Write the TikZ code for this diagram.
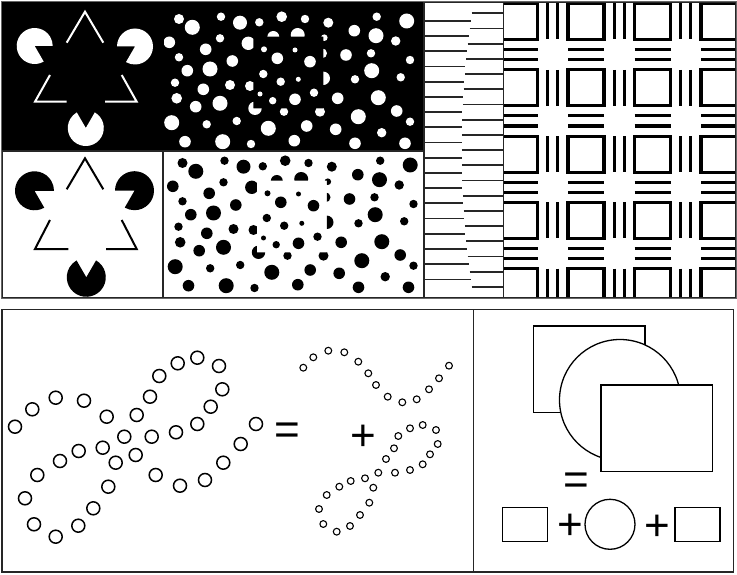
\documentclass[tikz,border=0pt]{standalone}
\usepackage{fontspec}
\newfontfamily\signfont{Liberation Sans}
\usepackage{tikz}
\begin{document}
\begin{tikzpicture}[x=1pt,y=-1pt,
  frame/.style={draw=black!85, line width=1.5pt},
  edge/.style={line width=2pt},
  hline/.style={draw=black!85, line width=1.8pt},
  bar/.style={line width=3.1pt},
  ring/.style={draw, line width=1.5pt},
  smallring/.style={draw, line width=1.1pt},
  outline/.style={draw, fill=white, line width=1.3pt},
  sign/.style={font=\signfont\fontsize{44}{44}\selectfont, inner sep=0pt},
]
\useasboundingbox (0,0) rectangle (737,575);

% dot pattern with the hidden square
\def\dotsout{179/19/5, 192.3/27.3/7.5, 221/16.7/4.2, 240/22.7/7, 259.3/22.3/4.2,
  281.7/16.7/5.3, 305/19/4.2, 328.3/22.7/5, 376.7/16.7/4.2, 406.7/21/7.5,
  169.3/42.3/5.8, 220/38.3/4.2, 248.3/43.3/6.7, 273.3/37/6, 297.7/35/7,
  324.3/37.7/3.3, 354.3/30.7/5.8, 376/35.7/7.5, 395.7/41/4.7,
  179/57.3/4.2, 205.7/49.3/5.8, 232.3/61/5.8, 322/53.3/5, 346/55/5.8,
  371/53.3/4.2, 410/60/4.2, 187.3/70.7/5.8, 210/69/7.5, 175/82.7/4.2,
  230/85/5, 323.3/78.3/6.7, 355/79.3/4.2, 371.7/70.7/7.5, 400.7/77.3/4.2,
  203.3/89.3/5.8, 250/86/5, 176.7/98.3/5.3, 220/103.3/7.5, 195.7/106.7/5.8,
  337.7/98.3/5.8, 378.3/97.7/7.5, 255/108.3/6.7, 284/111.7/4.2, 320/111.7/5,
  171.7/122.7/7.5, 206.7/124.3/4.2, 236.7/121/4.2, 268.3/128.3/7.5,
  306.7/126/5.8, 335.7/129.3/5.8, 358.3/116.7/7.5, 396.7/111/5.8,
  410/121.7/4.2, 185/141.7/5.8, 222.7/141.7/7.5, 251/144/4.2,
  294.3/140.7/5.8, 355/143.3/5.8, 381.7/132.7/4.7, 405/143.3/5.8}
\def\dotsin{264/49.3/3, 295/50/2.5, 277.3/58.3/5.8, 310/61.7/5.8,
  263.3/74/4.2, 280.7/81.7/4.2, 298.3/79.3/2.5, 260/94/2.5,
  272.7/100.7/3.7, 295/99.3/5.8, 314/92.7/4.2}

% top row, black ground
\fill[black] (2,2) rectangle (424,151);

% Kanizsa, white on black
\draw[edge, white] (66.7,42.7) -- (85,11.7) -- (103.3,42.7)
  (50,75) -- (35,101.7) -- (66.5,101.7)
  (105,101.7) -- (136.7,101.7) -- (121.7,75);
\foreach \x/\y/\a in {34.7/46/60, 135/46.5/180, 85.8/128/300}
  \fill[white] (\x,\y) -- ++(\a:18) arc[start angle=\a, delta angle=300, radius=18] -- cycle;

% dots, white on black
\begin{scope}[even odd rule]
  \clip (164,3) rectangle (423,150) (253.3,36.7) rectangle (323.3,108.3);
  \foreach \x/\y/\r in \dotsout \fill[white] (\x,\y) circle[radius=\r];
\end{scope}
\begin{scope}
  \clip (253.3,36.7) rectangle (323.3,108.3);
  \foreach \x/\y/\r in \dotsin \fill[white] (\x,\y) circle[radius=\r];
\end{scope}

% Kanizsa, black on white
\draw[frame] (2.5,151) rectangle (163,297.5);
\draw[edge] (66.7,189.3) -- (85,158.3) -- (103.3,189.3)
  (50,220) -- (35,249) -- (68.3,249)
  (106,249) -- (136.7,249) -- (121.7,220);
\foreach \x/\y/\a in {34.5/190.8/60, 134.5/190.7/180, 86.3/277.3/300}
  \fill (\x,\y) -- ++(\a:19.5) arc[start angle=\a, delta angle=300, radius=19.5] -- cycle;

% dots, black on white
\draw[frame] (163,151) rectangle (424.5,297.5);
\begin{scope}[shift={(3.5,144)}, even odd rule]
  \clip (161,8) rectangle (420,152) (253.3,36.7) rectangle (323.3,108.3);
  \foreach \x/\y/\r in \dotsout \fill (\x,\y) circle[radius=\r];
\end{scope}
\begin{scope}[shift={(3.5,144)}]
  \clip (253.3,36.7) rectangle (323.3,108.3);
  \foreach \x/\y/\r in \dotsin \fill (\x,\y) circle[radius=\r];
\end{scope}

% offset lines
\draw[frame, line width=1.2pt] (424,2) rectangle (503.3,297.5);
\foreach \k in {0,...,18}{
  \pgfmathsetmacro\yy{13.3+15.2*\k}
  \pgfmathsetmacro\xb{461.7+10*((\yy-150)/137)^2}
  \draw[hline] (\xb,\yy) -- (503.3,\yy);
}
\foreach \k in {0,...,17}{
  \pgfmathsetmacro\yy{21+15.2*\k}
  \pgfmathsetmacro\xb{461.7+10*((\yy-150)/137)^2}
  \draw[hline] (424,\yy) -- (\xb,\yy);
}

% squares and bars
\begin{scope}
  \clip (503.3,2) rectangle (735.5,297.5);
  \foreach \i in {0,...,3}
    \foreach \j in {0,...,4}{
      \pgfmathsetmacro\xx{501.5+66.5*\i}
      \pgfmathsetmacro\yy{3.5+66.3*\j}
      \draw[bar] (\xx,\yy) rectangle ++(36,36);
      \ifnum\i<3 \draw[bar] (\xx+46.2,\yy) -- ++(0,36) (\xx+56.3,\yy) -- ++(0,36);\fi
      \ifnum\j<4 \draw[bar] (\xx,\yy+46.1) -- ++(36,0) (\xx,\yy+56.2) -- ++(36,0);\fi
    }
\end{scope}
\draw[frame, line width=1.2pt] (503.3,2) rectangle (735.5,297.5);
\draw[draw=black!60, line width=1pt] (1.5,1.5) rectangle (736,298);

% bottom row
\draw[frame] (2,309.3) rectangle (733.5,572);
\draw[frame] (473.5,309.3) -- (473.5,572);

% rings along the knot
\foreach \x/\y in {15/426.7, 32.3/409.3, 55.7/397.7, 84/400.7, 106.7/416.7,
  136.7/415, 150/396.7, 159.3/376, 177.7/363.3, 197.3/357.7, 219/366,
  222.3/389.3, 210.7/406.7, 197.3/424, 176/432.3, 151.7/436.7, 124.3/436.7,
  102.7/447.7, 78.7/451, 60/461, 37.3/475, 25/498.3, 34/524.3, 55.7/536.7,
  78.3/525.7, 93.3/508.3, 108.3/486.7, 115.7/462.7, 135.7/455, 155.7/475,
  180/485.7, 205/480, 223.3/462.7, 240.7/444, 256/424}
  \draw[ring] (\x,\y) circle[radius=6.5];
\node[sign] (eqA) at (287,433.5) {=};

% the wave
\foreach \x/\y in {303.3/367.7, 313.3/357.3, 328.3/350.7, 344.3/352.3,
  358.3/361.7, 368.3/373.3, 376/385, 387.7/396.7, 402.3/402.3, 416.7/399.3,
  429/389.3, 439/378.3, 449/365.7}
  \draw[smallring] (\x,\y) circle[radius=3.4];
\node[sign] (plusA) at (363.3,437.5) {+};

% the loop
\foreach \x/\y in {422.7/425, 436/430, 437.7/444, 430/454.3, 422.7/464.3,
  410/470, 395/472.7, 378.3/472.7, 386/459, 394/448.3, 398.3/436, 410/428.3,
  373.3/487.7, 365/478.3, 350.7/481, 339.3/486.7, 326.7/495, 319/509,
  323.3/524, 336.7/531.7, 350/526, 360/515, 369.3/502.7}
  \draw[smallring] (\x,\y) circle[radius=3.4];

% occluding shapes
\draw[outline] (533.3,326) rectangle (645,412.3);
\draw[outline] (620,400) circle[radius=60.5];
\draw[outline] (601,385) rectangle (712.7,471.7);
\node[sign] (eqB) at (576.7,483.3) {=};
\node[draw, line width=1.3pt, minimum width=45.4pt, minimum height=34.4pt] (boxA) at (525,524.5) {};
\node[sign] (plusB) at (570,526.7) {+};
\node[circle, draw, line width=1.3pt, minimum size=50pt] (ringC) at (610,524.3) {};
\node[sign] (plusC) at (657.7,528.3) {+};
\node[draw, line width=1.3pt, minimum width=45pt, minimum height=34.4pt] (boxB) at (697.5,524.5) {};
\end{tikzpicture}
\end{document}
